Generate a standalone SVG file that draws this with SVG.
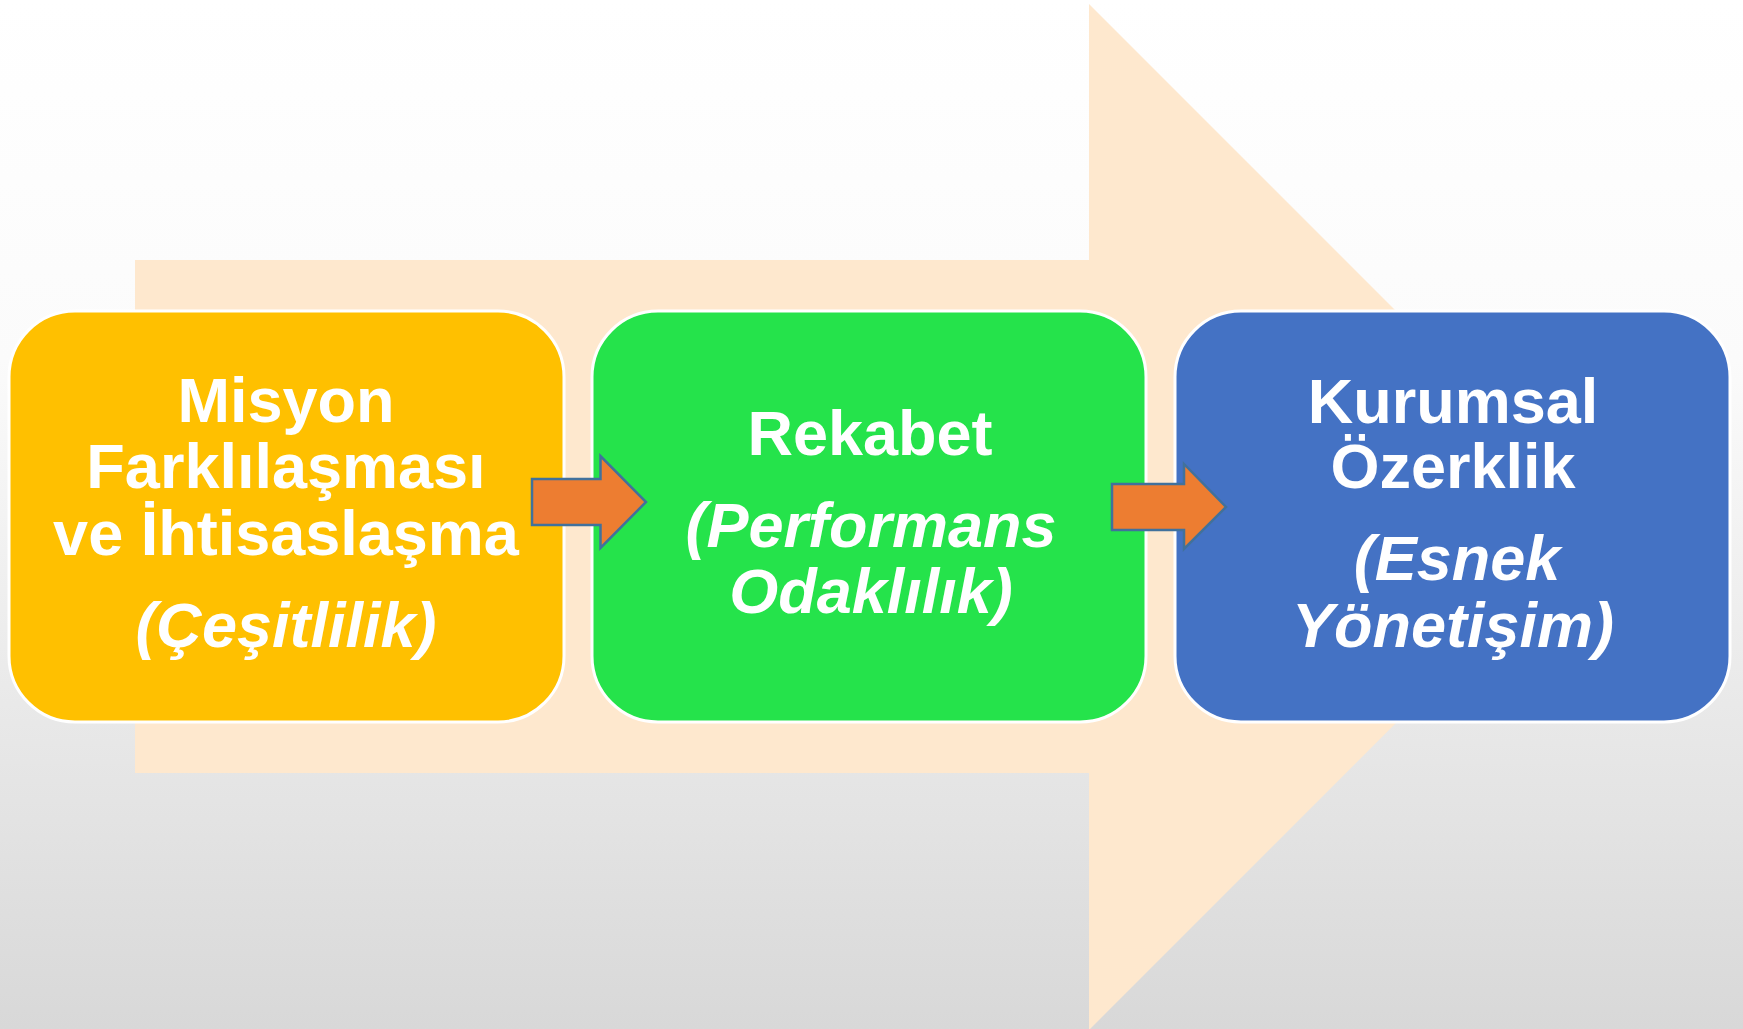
<svg xmlns="http://www.w3.org/2000/svg" width="1743" height="1029" viewBox="0 0 1743 1029">
  <defs>
    <linearGradient id="bg" x1="0" y1="0" x2="0" y2="1">
      <stop offset="0" stop-color="#ffffff"/>
      <stop offset="0.35" stop-color="#fbfbfb"/>
      <stop offset="1" stop-color="#d8d8d8"/>
    </linearGradient>
  </defs>
  <style>
    .box { stroke: #ffffff; stroke-width: 3; }
    .t { font-family: "Liberation Sans", Arial, sans-serif; font-weight: bold; font-size: 63px; fill: #ffffff; text-anchor: middle; }
    .i { font-style: italic; }
    .conn { fill: #ED7D31; stroke: #41719C; stroke-width: 2.5; stroke-linejoin: miter; }
  </style>
  <rect x="0" y="0" width="1743" height="1029" fill="url(#bg)"/>
  <polygon id="bigArrow" points="135,260 1089,260 1089,4 1602,517 1089,1030 1089,773 135,773" fill="#FEE8CE"/>

  <g id="node1">
    <rect class="box" x="9" y="311" width="555" height="411" rx="66" ry="66" fill="#FFC000"/>
    <text class="t" x="286" y="421.5">Misyon</text>
    <text class="t" x="286" y="488">Farklılaşması</text>
    <text class="t" x="286" y="554.5">ve İhtisaslaşma</text>
    <text class="t i" x="286" y="646.5">(Çeşitlilik)</text>
  </g>

  <g id="node2">
    <rect class="box" x="592" y="311" width="554" height="411" rx="66" ry="66" fill="#25E34B"/>
    <text class="t" x="870" y="455">Rekabet</text>
    <text class="t i" x="871" y="546.5">(Performans</text>
    <text class="t i" x="871" y="613">Odaklılık)</text>
  </g>

  <g id="node3">
    <rect class="box" x="1175" y="311" width="555" height="411" rx="66" ry="66" fill="#4472C4"/>
    <text class="t" x="1453" y="422.5">Kurumsal</text>
    <text class="t" x="1453" y="488">Özerklik</text>
    <text class="t i" x="1457" y="580">(Esnek</text>
    <text class="t i" x="1453" y="646.5">Yönetişim)</text>
  </g>

  <g id="connectors">
    <polygon class="conn" points="532,479 600.5,479 600.5,456 646,502 600.5,548 600.5,525 532,525"/>
    <polygon class="conn" points="1112,484 1184,484 1184,464 1226,507 1184,549 1184,530 1112,530"/>
  </g>
</svg>
